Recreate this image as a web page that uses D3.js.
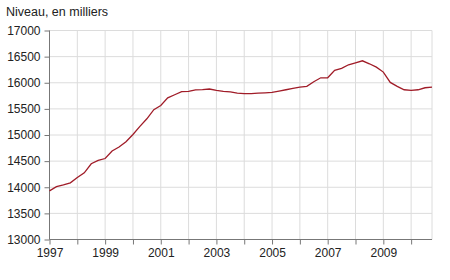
<!DOCTYPE html>
<html>
<head>
<meta charset="utf-8">
<script src="https://cdn.jsdelivr.net/npm/d3@7"></script>
<style>
  body { margin: 0; background: #fff; }
  text { font-family: "Liberation Sans", Arial, sans-serif; fill: #222; }
</style>
</head>
<body>
<div id="chart"></div>
<script>
var w = 450;
var h = 280;

// quarterly levels, 1997 Q1 .. 2010 Q4
var years = [1997, 1998, 1999, 2000, 2001, 2002, 2003, 2004, 2005, 2006, 2007, 2008, 2009, 2010];
var values = [
  13930, 14010, 14045, 14085,
  14185, 14275, 14450, 14515,
  14550, 14695, 14770, 14870,
  15010, 15165, 15310, 15485,
  15565, 15710, 15770, 15830,
  15835, 15865, 15870, 15880,
  15855, 15835, 15825, 15800,
  15790, 15790, 15800, 15808,
  15815, 15840, 15866, 15892,
  15917, 15930, 16020, 16095,
  16095, 16236, 16274, 16344,
  16382, 16420, 16363, 16299,
  16204, 16006, 15930, 15866,
  15853, 15866, 15904, 15917
];
var yTicks = [13000, 13500, 14000, 14500, 15000, 15500, 16000, 16500, 17000];
var xLabels = [1997, 1999, 2001, 2003, 2005, 2007, 2009];

var margin = {left: 49.5, right: 18, top: 30.5, bottom: 40.5};

var x = d3.scaleLinear()
  .domain([1997, 2010.75])
  .range([margin.left, w - margin.right]);

var y = d3.scaleLinear()
  .domain([13000, 17000])
  .range([h - margin.bottom, margin.top]);

var svg = d3.select("#chart")
  .append("svg")
  .attr("width", w)
  .attr("height", h);

svg.append("text")
  .attr("x", 6)
  .attr("y", 16)
  .style("font-size", "12.5px")
  .text("Niveau, en milliers");

// grid
svg.append("g")
  .selectAll("line.hg")
  .data(yTicks)
  .enter()
  .append("line")
  .attr("x1", margin.left)
  .attr("x2", w - margin.right)
  .attr("y1", function(d) { return y(d); })
  .attr("y2", function(d) { return y(d); })
  .attr("stroke", "#dcdcdc");

svg.append("g")
  .selectAll("line.vg")
  .data(years.concat([2010.75]))
  .enter()
  .append("line")
  .attr("x1", function(d) { return x(d); })
  .attr("x2", function(d) { return x(d); })
  .attr("y1", y(13000))
  .attr("y2", y(17000))
  .attr("stroke", "#dcdcdc");

// axes
var yAxis = d3.axisLeft(y)
  .tickValues(yTicks)
  .tickSize(5)
  .tickPadding(4)
  .tickFormat(d3.format("d"));

var xAxis = d3.axisBottom(x)
  .tickValues(years)
  .tickSize(5)
  .tickPadding(4)
  .tickFormat(function(d) { return xLabels.indexOf(d) >= 0 ? d : ""; });

var gy = svg.append("g")
  .attr("transform", "translate(" + margin.left + ",0)")
  .call(yAxis);

var gx = svg.append("g")
  .attr("transform", "translate(0," + y(13000) + ")")
  .call(xAxis);

[gx, gy].forEach(function(g) {
  g.select(".domain").attr("stroke", "#777");
  g.selectAll(".tick line").attr("stroke", "#777");
  g.selectAll("text")
    .style("font-size", "12px")
    .style("font-family", "'Liberation Sans', Arial, sans-serif")
    .attr("fill", "#222");
});
gx.select(".domain").attr("d", "M" + margin.left + ",0H" + (w - margin.right));
gy.select(".domain").attr("d", "M0," + y(13000) + "V" + y(17000));

// line
var line = d3.line()
  .x(function(d, i) { return x(1997 + i / 4); })
  .y(function(d) { return y(d); });

svg.append("path")
  .datum(values)
  .attr("fill", "none")
  .attr("stroke", "#a01c28")
  .attr("stroke-width", 1.3)
  .attr("d", line);
</script>
</body>
</html>
